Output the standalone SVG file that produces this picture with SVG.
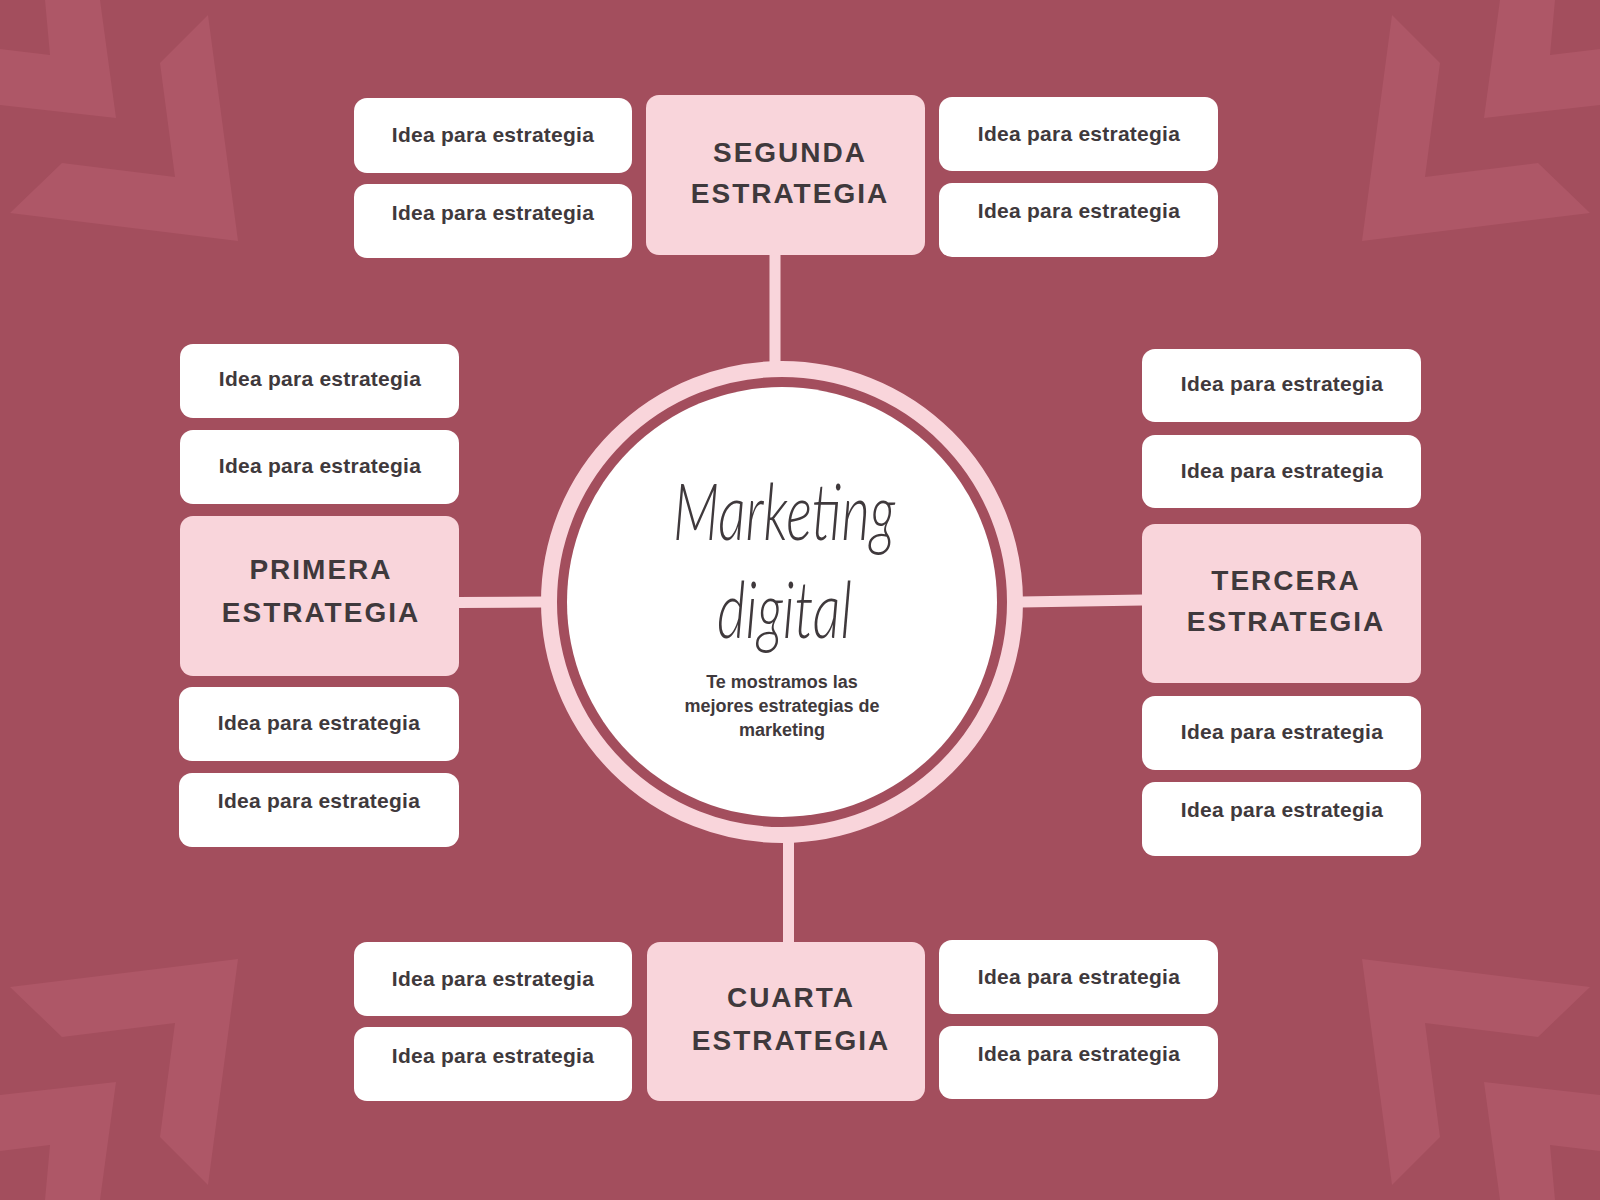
<svg xmlns="http://www.w3.org/2000/svg" width="1600" height="1200" viewBox="0 0 1600 1200">
<style>
.bgshape{fill:#ae5767}
.idea rect{fill:#ffffff}
.strat rect{fill:#f9d5db}
.idea text{font-family:"Liberation Sans",Arial,sans-serif;font-weight:700;font-size:21px;fill:#3f393c;text-anchor:middle;letter-spacing:0.25px}
.strat text{font-family:"Liberation Sans",Arial,sans-serif;font-weight:700;font-size:28px;fill:#3f393c;text-anchor:middle;letter-spacing:2px}
.conn line{stroke:#f9d5db;stroke-width:11}
.script{font-family:Lato,"Open Sans",sans-serif;font-style:italic;font-weight:300;font-size:78px;fill:#3f393c;text-anchor:middle}
.sub{font-family:"Liberation Sans",Arial,sans-serif;font-weight:700;font-size:18px;fill:#3f393c;text-anchor:middle}
</style>
<defs>
<g id="corner">
<polygon class="bgshape" points="45,0 100,0 116,118 0,105 0,49 50,55"/>
<polygon class="bgshape" points="208,15 238,241 10,213 62,163 175,177 160,63"/>
</g>
</defs>
<rect width="1600" height="1200" fill="#a34e5d"/>
<g id="background">
<use href="#corner"/>
<use href="#corner" transform="translate(1600,0) scale(-1,1)"/>
<use href="#corner" transform="translate(0,1200) scale(1,-1)"/>
<use href="#corner" transform="rotate(180 800 600)"/>
</g>
<g id="connectors" class="conn">
<line x1="775" y1="255" x2="775" y2="364"/>
<line x1="458" y1="602.5" x2="543" y2="602"/>
<line x1="1021" y1="602" x2="1143" y2="600"/>
<line x1="788.5" y1="840" x2="788.5" y2="943"/>
</g>
<g id="center">
<circle cx="782" cy="602" r="233" fill="none" stroke="#f9d5db" stroke-width="16"/>
<circle cx="782" cy="602" r="215" fill="#ffffff"/>
<text class="script" x="784" y="540" textLength="222" lengthAdjust="spacingAndGlyphs">Marketing</text>
<text class="script" x="784.5" y="638" textLength="135" lengthAdjust="spacingAndGlyphs">digital</text>
<text class="sub" x="782" y="688">Te mostramos las</text>
<text class="sub" x="782" y="712">mejores estrategias de</text>
<text class="sub" x="782" y="736">marketing</text>
</g>
<g id="primera" class="strat">
<rect x="180" y="516" width="279" height="160" rx="13"/>
<text x="321" y="579">PRIMERA</text>
<text x="321" y="622">ESTRATEGIA</text>
</g>
<g id="segunda" class="strat">
<rect x="646" y="95" width="279" height="160" rx="13"/>
<text x="790" y="162">SEGUNDA</text>
<text x="790" y="203">ESTRATEGIA</text>
</g>
<g id="tercera" class="strat">
<rect x="1142" y="524" width="279" height="159" rx="13"/>
<text x="1286" y="590">TERCERA</text>
<text x="1286" y="631">ESTRATEGIA</text>
</g>
<g id="cuarta" class="strat">
<rect x="647" y="942" width="278" height="159" rx="13"/>
<text x="791" y="1007">CUARTA</text>
<text x="791" y="1050">ESTRATEGIA</text>
</g>
<g id="idea-l1" class="idea"><rect x="180" y="344" width="279" height="74" rx="13"/><text x="320" y="386">Idea para estrategia</text></g>
<g id="idea-l2" class="idea"><rect x="180" y="430" width="279" height="74" rx="13"/><text x="320" y="473">Idea para estrategia</text></g>
<g id="idea-l3" class="idea"><rect x="179" y="687" width="280" height="74" rx="13"/><text x="319" y="730">Idea para estrategia</text></g>
<g id="idea-l4" class="idea"><rect x="179" y="773" width="280" height="74" rx="13"/><text x="319" y="808">Idea para estrategia</text></g>
<g id="idea-r1" class="idea"><rect x="1142" y="349" width="279" height="73" rx="13"/><text x="1282" y="391">Idea para estrategia</text></g>
<g id="idea-r2" class="idea"><rect x="1142" y="435" width="279" height="73" rx="13"/><text x="1282" y="478">Idea para estrategia</text></g>
<g id="idea-r3" class="idea"><rect x="1142" y="696" width="279" height="74" rx="13"/><text x="1282" y="739">Idea para estrategia</text></g>
<g id="idea-r4" class="idea"><rect x="1142" y="782" width="279" height="74" rx="13"/><text x="1282" y="817">Idea para estrategia</text></g>
<g id="idea-t1" class="idea"><rect x="354" y="98" width="278" height="75" rx="13"/><text x="493" y="142">Idea para estrategia</text></g>
<g id="idea-t2" class="idea"><rect x="354" y="184" width="278" height="74" rx="13"/><text x="493" y="220">Idea para estrategia</text></g>
<g id="idea-t3" class="idea"><rect x="939" y="97" width="279" height="74" rx="13"/><text x="1079" y="141">Idea para estrategia</text></g>
<g id="idea-t4" class="idea"><rect x="939" y="183" width="279" height="74" rx="13"/><text x="1079" y="218">Idea para estrategia</text></g>
<g id="idea-b1" class="idea"><rect x="354" y="942" width="278" height="74" rx="13"/><text x="493" y="986">Idea para estrategia</text></g>
<g id="idea-b2" class="idea"><rect x="354" y="1027" width="278" height="74" rx="13"/><text x="493" y="1063">Idea para estrategia</text></g>
<g id="idea-b3" class="idea"><rect x="939" y="940" width="279" height="74" rx="13"/><text x="1079" y="984">Idea para estrategia</text></g>
<g id="idea-b4" class="idea"><rect x="939" y="1026" width="279" height="73" rx="13"/><text x="1079" y="1061">Idea para estrategia</text></g>
</svg>
